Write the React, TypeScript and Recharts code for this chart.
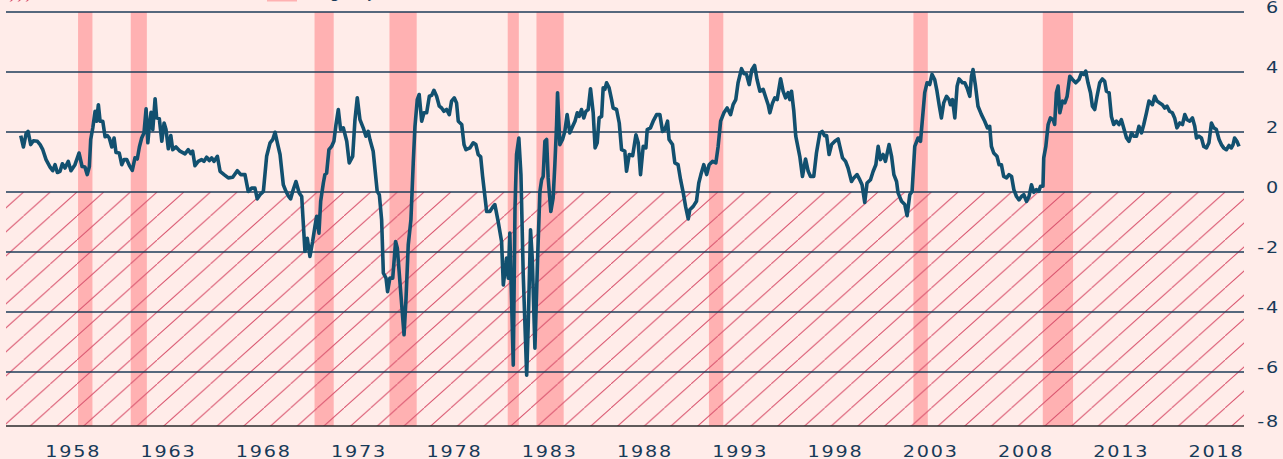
import React from 'react'
import { ComposedChart, Line, XAxis, YAxis, ReferenceArea, ReferenceLine } from 'recharts'

// decimal year of each reading
const years = [
  1954.59, 1954.73, 1954.87, 1954.97, 1955.11, 1955.25, 1955.46, 1955.60, 1955.74, 1955.91,
  1956.12, 1956.26, 1956.38, 1956.50, 1956.64, 1956.76, 1956.90, 1957.07, 1957.21, 1957.42,
  1957.63, 1957.79, 1957.94, 1958.06, 1958.17, 1958.24, 1958.35, 1958.47, 1958.55, 1958.64,
  1958.73, 1958.87, 1958.99, 1959.11, 1959.21, 1959.34, 1959.46, 1959.56, 1959.73, 1959.86,
  1959.98, 1960.12, 1960.26, 1960.41, 1960.55, 1960.67, 1960.78, 1960.90, 1961.02, 1961.13,
  1961.22, 1961.30, 1961.39, 1961.48, 1961.60, 1961.68, 1961.82, 1961.95, 1962.07, 1962.17,
  1962.29, 1962.42, 1962.52, 1962.69, 1962.90, 1963.16, 1963.33, 1963.46, 1963.56, 1963.68,
  1963.85, 1964.03, 1964.15, 1964.29, 1964.43, 1964.55, 1964.67, 1964.85, 1964.99, 1965.20,
  1965.42, 1965.65, 1965.89, 1966.07, 1966.29, 1966.46, 1966.64, 1966.81, 1966.93, 1967.07,
  1967.25, 1967.42, 1967.60, 1967.74, 1967.86, 1967.98, 1968.12, 1968.29, 1968.43, 1968.57,
  1968.67, 1968.78, 1968.95, 1969.12, 1969.25, 1969.42, 1969.54, 1969.68, 1969.82, 1969.94,
  1970.03, 1970.15, 1970.24, 1970.38, 1970.46, 1970.55, 1970.67, 1970.81, 1970.93, 1971.04,
  1971.16, 1971.28, 1971.42, 1971.60, 1971.73, 1971.91, 1972.03, 1972.15, 1972.29, 1972.46,
  1972.60, 1972.72, 1972.81, 1972.98, 1973.19, 1973.30, 1973.42, 1973.51, 1973.65, 1973.73,
  1973.85, 1974.00, 1974.15, 1974.24, 1974.38, 1974.59, 1974.69, 1974.81, 1974.95, 1975.07,
  1975.16, 1975.28, 1975.38, 1975.51, 1975.63, 1975.77, 1975.91, 1976.03, 1976.15, 1976.29,
  1976.43, 1976.55, 1976.67, 1976.81, 1976.95, 1977.07, 1977.21, 1977.33, 1977.42, 1977.60,
  1977.72, 1977.82, 1978.03, 1978.20, 1978.34, 1978.46, 1978.59, 1978.69, 1978.81, 1978.90,
  1979.07, 1979.24, 1979.33, 1979.50, 1979.68, 1979.77, 1979.94, 1980.03, 1980.11, 1980.29,
  1980.38, 1980.46, 1980.58, 1980.69, 1980.81, 1980.99, 1981.07, 1981.19, 1981.28, 1981.42,
  1981.56, 1981.68, 1981.77, 1981.85, 1981.94, 1982.03, 1982.11, 1982.25, 1982.37, 1982.46,
  1982.55, 1982.60, 1982.72, 1982.86, 1982.98, 1983.10, 1983.24, 1983.39, 1983.51, 1983.63,
  1983.73, 1983.85, 1983.97, 1984.08, 1984.20, 1984.32, 1984.46, 1984.56, 1984.67, 1984.77,
  1984.90, 1984.98, 1985.07, 1985.16, 1985.29, 1985.42, 1985.50, 1985.68, 1985.82, 1985.94,
  1986.11, 1986.20, 1986.34, 1986.52, 1986.69, 1986.81, 1986.93, 1987.07, 1987.21, 1987.28,
  1987.45, 1987.59, 1987.77, 1987.94, 1988.08, 1988.20, 1988.34, 1988.42, 1988.60, 1988.72,
  1988.89, 1989.02, 1989.16, 1989.28, 1989.42, 1989.50, 1989.68, 1989.85, 1989.97, 1990.08,
  1990.23, 1990.38, 1990.51, 1990.69, 1990.86, 1990.98, 1991.11, 1991.28, 1991.45, 1991.63,
  1991.76, 1991.90, 1992.02, 1992.20, 1992.32, 1992.46, 1992.60, 1992.74, 1992.88, 1993.01,
  1993.16, 1993.33, 1993.47, 1993.59, 1993.68, 1993.82, 1993.94, 1994.06, 1994.24, 1994.37,
  1994.50, 1994.63, 1994.72, 1994.81, 1994.93, 1995.03, 1995.24, 1995.38, 1995.54, 1995.68,
  1995.80, 1995.97, 1996.11, 1996.29, 1996.41, 1996.53, 1996.64, 1996.77, 1996.90, 1997.07,
  1997.24, 1997.37, 1997.47, 1997.63, 1997.76, 1997.94, 1998.06, 1998.23, 1998.37, 1998.49,
  1998.63, 1998.75, 1998.93, 1999.07, 1999.21, 1999.33, 1999.45, 1999.59, 1999.71, 1999.90,
  2000.03, 2000.15, 2000.29, 2000.37, 2000.55, 2000.72, 2000.84, 2000.98, 2001.10, 2001.24,
  2001.41, 2001.54, 2001.76, 2001.88, 2002.02, 2002.14, 2002.28, 2002.40, 2002.51, 2002.63,
  2002.75, 2002.90, 2003.03, 2003.10, 2003.21, 2003.33, 2003.45, 2003.55, 2003.73, 2003.85,
  2003.97, 2004.11, 2004.20, 2004.28, 2004.41, 2004.54, 2004.72, 2004.89, 2005.03, 2005.15,
  2005.24, 2005.36, 2005.53, 2005.64, 2005.76, 2005.88, 2006.03, 2006.16, 2006.29, 2006.41,
  2006.55, 2006.68, 2006.81, 2006.93, 2007.07, 2007.20, 2007.33, 2007.45, 2007.59, 2007.71,
  2007.80, 2007.93, 2007.97, 2008.08, 2008.20, 2008.32, 2008.46, 2008.54, 2008.63, 2008.72,
  2008.81, 2008.95, 2009.07, 2009.19, 2009.33, 2009.47, 2009.64, 2009.81, 2009.94, 2010.06,
  2010.16, 2010.28, 2010.41, 2010.51, 2010.63, 2010.75, 2010.89, 2011.03, 2011.15, 2011.24,
  2011.38, 2011.50, 2011.62, 2011.76, 2011.90, 2012.02, 2012.14, 2012.29, 2012.42, 2012.55,
  2012.67, 2012.81, 2012.94, 2013.07, 2013.19, 2013.33, 2013.46, 2013.64, 2013.76, 2013.88,
  2014.02, 2014.16, 2014.28, 2014.40, 2014.54, 2014.68, 2014.80, 2014.92, 2015.07, 2015.21,
  2015.33, 2015.45, 2015.59, 2015.73, 2015.85, 2015.94, 2016.07, 2016.20, 2016.32, 2016.46,
  2016.59, 2016.72, 2016.84, 2016.98, 2017.12, 2017.24, 2017.36, 2017.50, 2017.64, 2017.76,
  2017.85, 2017.93, 2018.05, 2018.16,
]

// spread, percentage points
const spread = [
  1.88, 1.50, 1.95, 2.02, 1.58, 1.71, 1.69, 1.58, 1.41, 1.08,
  0.83, 0.71, 0.91, 0.65, 0.69, 0.94, 0.80, 1.02, 0.71, 0.91,
  1.30, 0.85, 0.83, 0.58, 0.85, 1.75, 2.14, 2.69, 2.36, 2.91,
  2.36, 2.36, 1.84, 1.88, 1.80, 1.50, 1.80, 1.32, 1.30, 0.91,
  1.08, 1.08, 0.88, 0.72, 1.14, 1.10, 1.50, 1.80, 1.97, 2.77,
  1.64, 2.19, 2.66, 2.08, 3.11, 2.47, 2.44, 1.69, 2.30, 2.08,
  1.44, 1.88, 1.41, 1.50, 1.36, 1.27, 1.41, 1.28, 1.36, 0.88,
  1.02, 1.08, 1.02, 1.16, 1.05, 1.14, 1.02, 1.19, 0.69, 0.58,
  0.47, 0.49, 0.71, 0.58, 0.58, 0.02, 0.13, 0.13, -0.23, -0.09,
  0.02, 1.19, 1.64, 1.75, 1.99, 1.64, 1.25, 0.24, 0.02, -0.15,
  -0.23, 0.02, 0.35, -0.03, -0.15, -1.98, -1.54, -2.15, -1.65, -1.15,
  -0.81, -1.37, -0.31, 0.30, 0.58, 0.63, 1.41, 1.52, 1.69, 2.25,
  2.75, 2.08, 2.14, 1.69, 0.97, 1.19, 2.41, 3.14, 2.41, 2.14,
  1.86, 2.02, 1.75, 1.36, 0.02, -0.09, -0.92, -2.70, -2.87, -3.32,
  -2.87, -2.87, -1.65, -1.87, -3.04, -4.76, -3.60, -1.76, -0.92, 0.97,
  2.19, 3.08, 3.25, 2.36, 2.64, 2.64, 3.19, 3.22, 3.39, 3.19,
  2.86, 2.80, 2.69, 2.75, 2.58, 3.03, 3.14, 2.97, 2.36, 2.25,
  1.58, 1.41, 1.47, 1.64, 1.58, 1.25, 1.17, 0.52, -0.15, -0.65,
  -0.65, -0.48, -0.42, -0.98, -1.65, -3.10, -2.20, -2.87, -1.37, -5.77,
  -0.53, 1.25, 1.80, 0.58, -2.76, -6.11, -4.43, -1.26, -2.20, -5.21,
  -2.20, 0.02, 0.41, 0.52, 1.69, 1.75, 0.47, -0.65, -0.20, 0.91,
  2.25, 3.31, 1.58, 1.75, 2.02, 2.58, 1.97, 2.19, 2.36, 2.64,
  2.52, 2.75, 2.47, 2.69, 2.75, 3.44, 2.64, 1.47, 1.64, 2.47,
  2.52, 3.47, 3.42, 3.64, 3.47, 3.08, 2.80, 2.75, 2.30, 1.41,
  1.36, 0.69, 1.25, 1.21, 1.91, 1.64, 0.58, 1.52, 1.47, 2.08,
  2.14, 2.36, 2.58, 2.58, 2.02, 2.08, 2.36, 1.75, 1.58, 0.97,
  0.91, 0.41, -0.03, -0.48, -0.90, -0.59, -0.48, -0.31, 0.30, 0.58,
  0.91, 0.58, 0.91, 1.02, 0.97, 1.52, 2.36, 2.64, 2.80, 2.58,
  2.91, 3.08, 3.64, 4.11, 3.95, 3.92, 3.58, 4.08, 4.22, 3.75,
  3.36, 3.42, 3.14, 2.91, 2.64, 2.97, 3.14, 3.08, 3.77, 3.36,
  3.14, 3.31, 3.08, 3.36, 2.69, 1.86, 1.19, 0.52, 1.10, 0.69,
  0.52, 0.52, 1.30, 1.97, 2.02, 1.88, 1.88, 1.25, 1.58, 1.69,
  1.77, 1.41, 1.14, 1.02, 0.80, 0.35, 0.47, 0.58, 0.41, 0.24,
  -0.35, 0.30, 0.41, 0.69, 0.91, 1.52, 1.08, 1.25, 1.02, 1.58,
  1.19, 0.58, 0.35, -0.03, -0.31, -0.42, -0.79, -0.09, 0.02, 1.52,
  1.80, 1.69, 3.31, 3.64, 3.58, 3.92, 3.75, 3.36, 2.91, 2.47,
  2.97, 3.19, 3.08, 2.91, 3.08, 2.47, 3.53, 3.77, 3.64, 3.64,
  3.47, 3.19, 3.86, 4.08, 3.53, 2.86, 2.58, 2.36, 2.14, 2.19,
  1.52, 1.30, 1.19, 0.91, 0.91, 0.52, 0.47, 0.58, 0.52, 0.08,
  -0.15, -0.26, -0.15, -0.09, -0.31, -0.15, 0.24, -0.01, 0.08, 0.02,
  0.19, 0.19, 1.14, 1.52, 2.25, 2.47, 2.41, 2.25, 3.31, 3.53,
  2.64, 3.03, 2.97, 3.19, 3.86, 3.75, 3.64, 3.75, 3.97, 3.92,
  4.03, 3.64, 3.31, 2.86, 2.75, 3.19, 3.64, 3.77, 3.69, 3.36,
  3.31, 2.52, 2.25, 2.36, 2.25, 2.41, 2.14, 1.80, 1.69, 1.97,
  1.86, 1.86, 2.19, 1.97, 2.25, 2.64, 3.03, 2.91, 3.19, 3.03,
  2.97, 2.91, 2.80, 2.86, 2.69, 2.64, 2.47, 2.14, 2.30, 2.25,
  2.58, 2.41, 2.36, 2.47, 2.19, 1.80, 1.86, 1.80, 1.52, 1.47,
  1.64, 2.30, 2.14, 2.08, 1.75, 1.58, 1.47, 1.41, 1.55, 1.47,
  1.58, 1.80, 1.69, 1.52,
]

// recession periods (start / end, decimal years)
const recessionStart = [1957.58, 1960.33, 1969.92, 1973.83, 1980.0, 1981.5, 1990.5, 2001.17, 2007.92]
const recessionEnd = [1958.33, 1961.17, 1970.92, 1975.25, 1980.58, 1982.92, 1991.25, 2001.92, 2009.5]

const xTicks = [1957.33, 1962.3, 1967.27, 1972.24, 1977.22, 1982.19, 1987.16, 1992.13, 1997.1, 2002.07, 2007.04, 2012.01, 2016.98]
const xTickLabels = ['1958', '1963', '1968', '1973', '1978', '1983', '1988', '1993', '1998', '2003', '2008', '2013', '2018']

const yTicks = [-7.8, -6, -4, -2, 0, 2, 4, 6]
const yTickLabels = ['-8', '-6', '-4', '-2', '0', '2', '4', '6']
const gridLevels = [6, 4, 2, 0, -2, -4, -6]

const legendLabels = ['Inverterad räntekurva', 'Lågkonjunktur']

const W = 1283
const H = 459
const BG = '#ffece9'
const BAR = '#ffb1b2'
const HATCH = '#d9546e'
const GRID = '#1e3c58'
const TEXT = '#173a58'
const LINE = '#12506f'
const FONT = '"DejaVu Sans", sans-serif'

const data = years.map((year, i) => ({ year, spread: spread[i] }))

const YTick = (props: any) => {
  const { y, payload } = props
  const label = yTickLabels[yTicks.indexOf(payload.value)]
  return (
    <text transform={`translate(${W - 3},${y + 1}) scale(1.2,1)`} textAnchor="end"
      fill={TEXT} fontSize={16} fontFamily={FONT} letterSpacing={1.5}>
      {label}
    </text>
  )
}

const XTick = (props: any) => {
  const { x, payload } = props
  const label = xTickLabels[xTicks.indexOf(payload.value)]
  return (
    <text transform={`translate(${x},${H - 2.5}) scale(1.2,1)`} textAnchor="middle"
      fill={TEXT} fontSize={16} fontFamily={FONT} letterSpacing={1.5}>
      {label}
    </text>
  )
}

export default function App() {
  return (
    <div style={{ position: 'absolute', left: 0, top: 0, width: W, height: H, background: BG, overflow: 'hidden' }}>
      {/* legend sits mostly above the visible area */}
      <svg width={W} height={22} style={{ position: 'absolute', left: 0, top: -20 }}>
        <defs>
          <pattern id="legendHatch" patternUnits="userSpaceOnUse" width={8} height={8}>
            <line x1={0} y1={8} x2={8} y2={0} stroke={HATCH} strokeWidth={1.2} />
          </pattern>
        </defs>
        <rect x={8} y={4} width={24} height={17.5} fill="url(#legendHatch)" />
        <text x={40} y={18} fill={TEXT} fontSize={16} fontFamily={FONT}>{legendLabels[0]}</text>
        <rect x={267} y={7} width={30} height={14.5} fill={BAR} />
        <text x={311} y={18} fill={TEXT} fontSize={16} fontFamily={FONT}>{legendLabels[1]}</text>
      </svg>
      <ComposedChart width={W} height={H} data={data} margin={{ top: 12, right: 0, left: 6, bottom: 0 }}>
        <defs>
          <pattern id="hatch" patternUnits="userSpaceOnUse" x={-3.1} y={0} width={26.7} height={24}>
            <line x1={0} y1={24} x2={26.7} y2={0} stroke={HATCH} strokeWidth={1} />
          </pattern>
        </defs>
        <XAxis type="number" dataKey="year" domain={[1953.82, 2018.42]} ticks={xTicks}
          allowDataOverflow axisLine={false} tickLine={false} height={33} tick={<XTick />} interval={0} />
        <YAxis type="number" orientation="right" domain={[-7.8, 6]} ticks={yTicks}
          allowDataOverflow axisLine={false} tickLine={false} width={39} tick={<YTick />} interval={0} />
        {recessionStart.map((s, i) => (
          <ReferenceArea key={`rec-${i}`} x1={s} x2={recessionEnd[i]} fill={BAR} fillOpacity={1} stroke="none" />
        ))}
        <ReferenceArea y1={-7.8} y2={0} fill="url(#hatch)" fillOpacity={1} stroke="none" />
        {gridLevels.map(v => (
          <ReferenceLine key={`g-${v}`} y={v} stroke={GRID} strokeWidth={1.3} />
        ))}
        <ReferenceLine y={-7.8} stroke="#2a2a2a" strokeWidth={1.6} />
        <Line type="linear" dataKey="spread" stroke={LINE} strokeWidth={3.6} dot={false}
          strokeLinejoin="round" isAnimationActive={false} />
      </ComposedChart>
    </div>
  )
}
